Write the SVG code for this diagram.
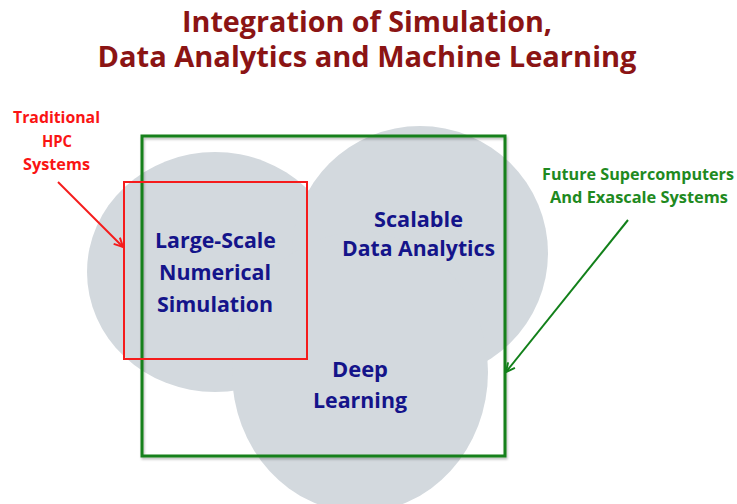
<svg xmlns="http://www.w3.org/2000/svg" width="737" height="504" viewBox="0 0 737 504">
  <style>
    text { font-family: "Open Sans", Lato, "Liberation Sans", sans-serif; font-weight: bold; text-anchor: middle; }
    .title { font-size: 28px; fill: #8b1414; }
    .area { fill: #d3d9de; }
    .node-label { font-size: 21px; fill: #14148a; }
    .hpc-label { font-size: 16.5px; fill: #fa1414; }
    .future-label { font-size: 16px; fill: #1f8a1f; }
    .red-frame { fill: none; stroke: #f51c1c; stroke-width: 2; }
    .green-frame { fill: none; stroke: #12801a; stroke-width: 3; }
    .red-arrow { fill: none; stroke: #f51c1c; stroke-width: 2; }
    .green-arrow { fill: none; stroke: #12801a; stroke-width: 2; }
  </style>
  <defs>
    <marker id="open-red" viewBox="0 0 10 10" refX="9" refY="5" markerWidth="11" markerHeight="11" markerUnits="userSpaceOnUse" orient="auto">
      <path d="M1,1 L9,5 L1,9" fill="none" stroke="#f51c1c" stroke-width="1.8"/>
    </marker>
    <marker id="open-green" viewBox="0 0 10 10" refX="9" refY="5" markerWidth="11" markerHeight="11" markerUnits="userSpaceOnUse" orient="auto">
      <path d="M1,1 L9,5 L1,9" fill="none" stroke="#12801a" stroke-width="1.8"/>
    </marker>
    <filter id="soft-shadow" x="-5%" y="-5%" width="110%" height="110%">
      <feDropShadow dx="1" dy="2" stdDeviation="1" flood-color="#000" flood-opacity="0.25"/>
    </filter>
  </defs>

  <rect width="737" height="504" fill="#ffffff"/>

  <!-- heading -->
  <g id="heading">
    <text class="title" x="367" y="32" textLength="370" lengthAdjust="spacingAndGlyphs">Integration of Simulation,</text>
    <text class="title" x="367" y="67" textLength="539" lengthAdjust="spacingAndGlyphs">Data Analytics and Machine Learning</text>
  </g>

  <!-- three overlapping discipline areas -->
  <g id="simulation">
    <ellipse class="area" cx="215" cy="272" rx="128" ry="120"/>
  </g>
  <g id="analytics">
    <ellipse class="area" cx="420" cy="253" rx="128" ry="127"/>
  </g>
  <g id="deep-learning">
    <ellipse class="area" cx="360" cy="372" rx="128" ry="140"/>
  </g>

  <!-- system frames -->
  <g id="future-systems">
    <rect class="green-frame" x="142" y="136" width="363" height="320" filter="url(#soft-shadow)"/>
    <text class="future-label" x="638" y="180" textLength="192" lengthAdjust="spacingAndGlyphs">Future Supercomputers</text>
    <text class="future-label" x="639" y="203" textLength="178" lengthAdjust="spacingAndGlyphs">And Exascale Systems</text>
  </g>
  <g id="traditional-hpc">
    <rect class="red-frame" x="124" y="182" width="183" height="177"/>
    <text class="hpc-label" x="56.5" y="123" textLength="87" lengthAdjust="spacingAndGlyphs">Traditional</text>
    <text class="hpc-label" x="57" y="147" textLength="30" lengthAdjust="spacingAndGlyphs">HPC</text>
    <text class="hpc-label" x="56.5" y="170" textLength="67" lengthAdjust="spacingAndGlyphs">Systems</text>
  </g>

  <!-- area labels -->
  <g id="simulation-label">
    <text class="node-label" x="215.5" y="248" textLength="121" lengthAdjust="spacingAndGlyphs">Large-Scale</text>
    <text class="node-label" x="215" y="280" textLength="112" lengthAdjust="spacingAndGlyphs">Numerical</text>
    <text class="node-label" x="215" y="312" textLength="116" lengthAdjust="spacingAndGlyphs">Simulation</text>
  </g>
  <g id="analytics-label">
    <text class="node-label" x="418.5" y="227" textLength="89" lengthAdjust="spacingAndGlyphs">Scalable</text>
    <text class="node-label" x="418.5" y="256" textLength="153" lengthAdjust="spacingAndGlyphs">Data Analytics</text>
  </g>
  <g id="deep-learning-label">
    <text class="node-label" x="360" y="377" textLength="56" lengthAdjust="spacingAndGlyphs">Deep</text>
    <text class="node-label" x="360" y="408" textLength="94" lengthAdjust="spacingAndGlyphs">Learning</text>
  </g>

  <!-- pointers from the captions to their frames -->
  <g id="connectors">
    <line class="red-arrow" x1="58" y1="182" x2="123" y2="247" marker-end="url(#open-red)"/>
    <line class="green-arrow" x1="628" y1="220" x2="506" y2="372" marker-end="url(#open-green)"/>
  </g>
</svg>
